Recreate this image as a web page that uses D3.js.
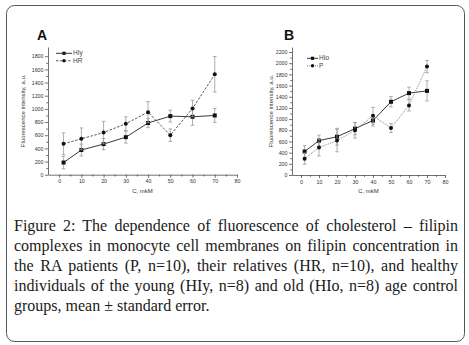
<!DOCTYPE html>
<html>
  <head>
    <meta charset="utf-8">
    <title>Figure 2</title>
    <script src="https://d3js.org/d3.v7.min.js"></script>
    <style>
      body { margin: 0; background: #fff; }
      #wrap { position: relative; width: 469px; height: 345px; }
      svg { position: absolute; left: 0; top: 0; }
      .caption {
        position: absolute; left: 14px; top: 216px; width: 444px;
        font-family: "Liberation Serif", "DejaVu Serif", serif;
        font-size: 16px; line-height: 20px; color: #1a1a1a;
      }
      .caption div { text-align: justify; text-align-last: justify; white-space: nowrap; }
      .caption div.last { text-align-last: left; }
      .tick text { font-family: Arial, "Liberation Sans", sans-serif; font-size: 5.3px; fill: #333; }
    </style>
  </head>
  <body>
    <div id="wrap"></div>

    <script>
      // ==================
      // data
      // ==================
      const conc = [2, 10, 20, 30, 40, 50, 60, 70];

      // panel A
      const hiyMean = [185, 375, 465, 570, 785, 890, 880, 900];
      const hiyErr  = [95, 90, 85, 90, 70, 90, 130, 105];
      const hrMean  = [470, 545, 640, 775, 950, 600, 1005, 1525];
      const hrErr   = [165, 165, 170, 105, 160, 95, 125, 270];

      // panel B
      const hioMean = [420, 615, 685, 830, 975, 1310, 1465, 1505];
      const hioErr  = [105, 100, 150, 110, 100, 92, 105, 180];
      const pMean   = [292, 490, 615, 800, 1060, 840, 1245, 1940];
      const pErr    = [100, 150, 200, 140, 150, 80, 100, 110];

      const xTicks  = [0, 10, 20, 30, 40, 50, 60, 70, 80];
      const yTicksA = [0, 200, 400, 600, 800, 1000, 1200, 1400, 1600, 1800];
      const yTicksB = [0, 200, 400, 600, 800, 1000, 1200, 1400, 1600, 1800, 2000, 2200];

      const captionLines = [
        "Figure 2: The dependence of fluorescence of cholesterol \u2013 filipin",
        "complexes in monocyte cell membranes on filipin concentration in",
        "the RA patients (P, n=10), their relatives (HR, n=10), and healthy",
        "individuals of the young (HIy, n=8) and old (HIo, n=8) age control",
        "groups, mean \u00b1 standard error."
      ];

      const width = 469;
      const height = 345;

      const svg = d3.select("#wrap")
        .append("svg")
          .attr("width", width)
          .attr("height", height);

      // frame round the whole figure
      svg.append("rect")
        .attr("x", 6.5)
        .attr("y", 5.5)
        .attr("width", 458)
        .attr("height", 336)
        .attr("rx", 8)
        .attr("fill", "none")
        .attr("stroke", "#555")
        .attr("stroke-width", 1);

      function drawPanel(cfg) {
        const x = d3.scaleLinear().domain([-5, 80]).range([cfg.left, cfg.right]);
        const y = d3.scaleLinear().domain([0, cfg.yMax]).range([cfg.bottom, cfg.top]);

        const g = svg.append("g");

        // minor ticks first
        const minorX = d3.range(5, 80, 10);
        const minorY = cfg.yTicks.slice(0, -1).map(function(v) { return v + 100; });

        g.append("g")
          .attr("transform", "translate(0," + cfg.bottom + ")")
          .call(d3.axisBottom(x).tickValues(minorX).tickFormat("").tickSize(1.8).tickSizeOuter(0))
          .call(function(s) { s.select(".domain").remove(); });
        g.append("g")
          .attr("transform", "translate(" + cfg.left + ",0)")
          .call(d3.axisLeft(y).tickValues(minorY).tickFormat("").tickSize(1.8).tickSizeOuter(0))
          .call(function(s) { s.select(".domain").remove(); });

        const xAxis = d3.axisBottom(x).tickValues(xTicks).tickFormat(d3.format("d"))
          .tickSize(3).tickSizeOuter(0).tickPadding(2);
        const yAxis = d3.axisLeft(y).tickValues(cfg.yTicks).tickFormat(d3.format("d"))
          .tickSize(3).tickSizeOuter(0).tickPadding(1.5);

        g.append("g")
          .classed("x-axis", true)
          .attr("transform", "translate(0," + cfg.bottom + ")")
          .call(xAxis);
        g.append("g")
          .classed("y-axis", true)
          .attr("transform", "translate(" + cfg.left + ",0)")
          .call(yAxis);

        g.selectAll(".domain, .tick line").attr("stroke", "#333").attr("stroke-width", 0.7);

        // axis titles
        g.append("text")
          .attr("x", (cfg.left + cfg.right) / 2)
          .attr("y", cfg.bottom + 18)
          .attr("text-anchor", "middle")
          .attr("font-family", "Arial, 'Liberation Sans', sans-serif")
          .attr("font-size", 6)
          .attr("fill", "#333")
          .text("C, mkM");

        g.append("text")
          .attr("transform", "translate(" + cfg.yLabelX + "," + ((cfg.top + cfg.bottom) / 2) + ") rotate(-90)")
          .attr("text-anchor", "middle")
          .attr("font-family", "Arial, 'Liberation Sans', sans-serif")
          .attr("font-size", 6)
          .attr("fill", "#333")
          .text("Fluorescence intensity, a.u.");

        // panel letter
        g.append("text")
          .attr("x", cfg.letterX)
          .attr("y", 40)
          .attr("font-family", "Arial, 'Liberation Sans', sans-serif")
          .attr("font-weight", "bold")
          .attr("font-size", 14)
          .attr("fill", "#111")
          .text(cfg.letter);

        const line = d3.line()
          .x(function(d) { return x(d.c); })
          .y(function(d) { return y(d.m); });

        cfg.series.forEach(function(s) {
          const data = conc.map(function(c, i) { return {c: c, m: s.mean[i], e: s.err[i]}; });

          // error bars
          const eb = g.append("g");
          data.forEach(function(d) {
            const cx = x(d.c);
            eb.append("line")
              .attr("x1", cx).attr("x2", cx)
              .attr("y1", y(d.m - d.e)).attr("y2", y(d.m + d.e))
              .attr("stroke", "#999").attr("stroke-width", 0.8);
            [d.m - d.e, d.m + d.e].forEach(function(v) {
              eb.append("line")
                .attr("x1", cx - 1.8).attr("x2", cx + 1.8)
                .attr("y1", y(v)).attr("y2", y(v))
                .attr("stroke", "#999").attr("stroke-width", 0.8);
            });
          });

          g.append("path")
            .attr("d", line(data))
            .attr("fill", "none")
            .attr("stroke", s.color)
            .attr("stroke-width", 0.9)
            .attr("stroke-dasharray", s.dash);

          data.forEach(function(d) {
            if (s.marker === "square") {
              g.append("rect")
                .attr("x", x(d.c) - 2).attr("y", y(d.m) - 2)
                .attr("width", 4).attr("height", 4)
                .attr("fill", "#111");
            } else {
              g.append("circle")
                .attr("cx", x(d.c)).attr("cy", y(d.m))
                .attr("r", 2).attr("fill", "#111");
            }
          });
        });

        // legend
        cfg.series.forEach(function(s, i) {
          const ly = cfg.legendY + i * 7.5;
          g.append("line")
            .attr("x1", cfg.legendX).attr("x2", cfg.legendX + cfg.legendW)
            .attr("y1", ly).attr("y2", ly)
            .attr("stroke", s.color).attr("stroke-width", 0.9)
            .attr("stroke-dasharray", s.dash);
          const mx = cfg.legendX + cfg.legendW / 2;
          if (s.marker === "square") {
            g.append("rect").attr("x", mx - 1.6).attr("y", ly - 1.6)
              .attr("width", 3.2).attr("height", 3.2).attr("fill", "#111");
          } else {
            g.append("circle").attr("cx", mx).attr("cy", ly).attr("r", 1.7).attr("fill", "#111");
          }
          g.append("text")
            .attr("x", cfg.legendX + cfg.legendW + 1)
            .attr("y", ly + 2)
            .attr("font-family", "Arial, 'Liberation Sans', sans-serif")
            .attr("font-size", 6.5)
            .attr("fill", "#444")
            .text(s.name);
        });
      }

      drawPanel({
        letter: "A", letterX: 37,
        left: 48, right: 237, top: 47, bottom: 174.7, yMax: 1940,
        yTicks: yTicksA, yLabelX: 25,
        legendX: 56, legendW: 16, legendY: 53.3,
        series: [
          {name: "HIy", mean: hiyMean, err: hiyErr, color: "#222", dash: null, marker: "square"},
          {name: "HR", mean: hrMean, err: hrErr, color: "#444", dash: "2.5,1.5", marker: "circle"}
        ]
      });

      drawPanel({
        letter: "B", letterX: 284,
        left: 292, right: 445, top: 47, bottom: 175, yMax: 2290,
        yTicks: yTicksB, yLabelX: 273,
        legendX: 307, legendW: 11, legendY: 58.3,
        series: [
          {name: "HIo", mean: hioMean, err: hioErr, color: "#222", dash: null, marker: "square"},
          {name: "P", mean: pMean, err: pErr, color: "#777", dash: "1,1", marker: "circle"}
        ]
      });

      // caption
      const cap = d3.select("#wrap").append("div").attr("class", "caption");
      cap.selectAll("div")
        .data(captionLines)
        .enter().append("div")
          .classed("last", function(d, i) { return i === captionLines.length - 1; })
          .text(function(d) { return d; });
    </script>
  </body>
</html>
